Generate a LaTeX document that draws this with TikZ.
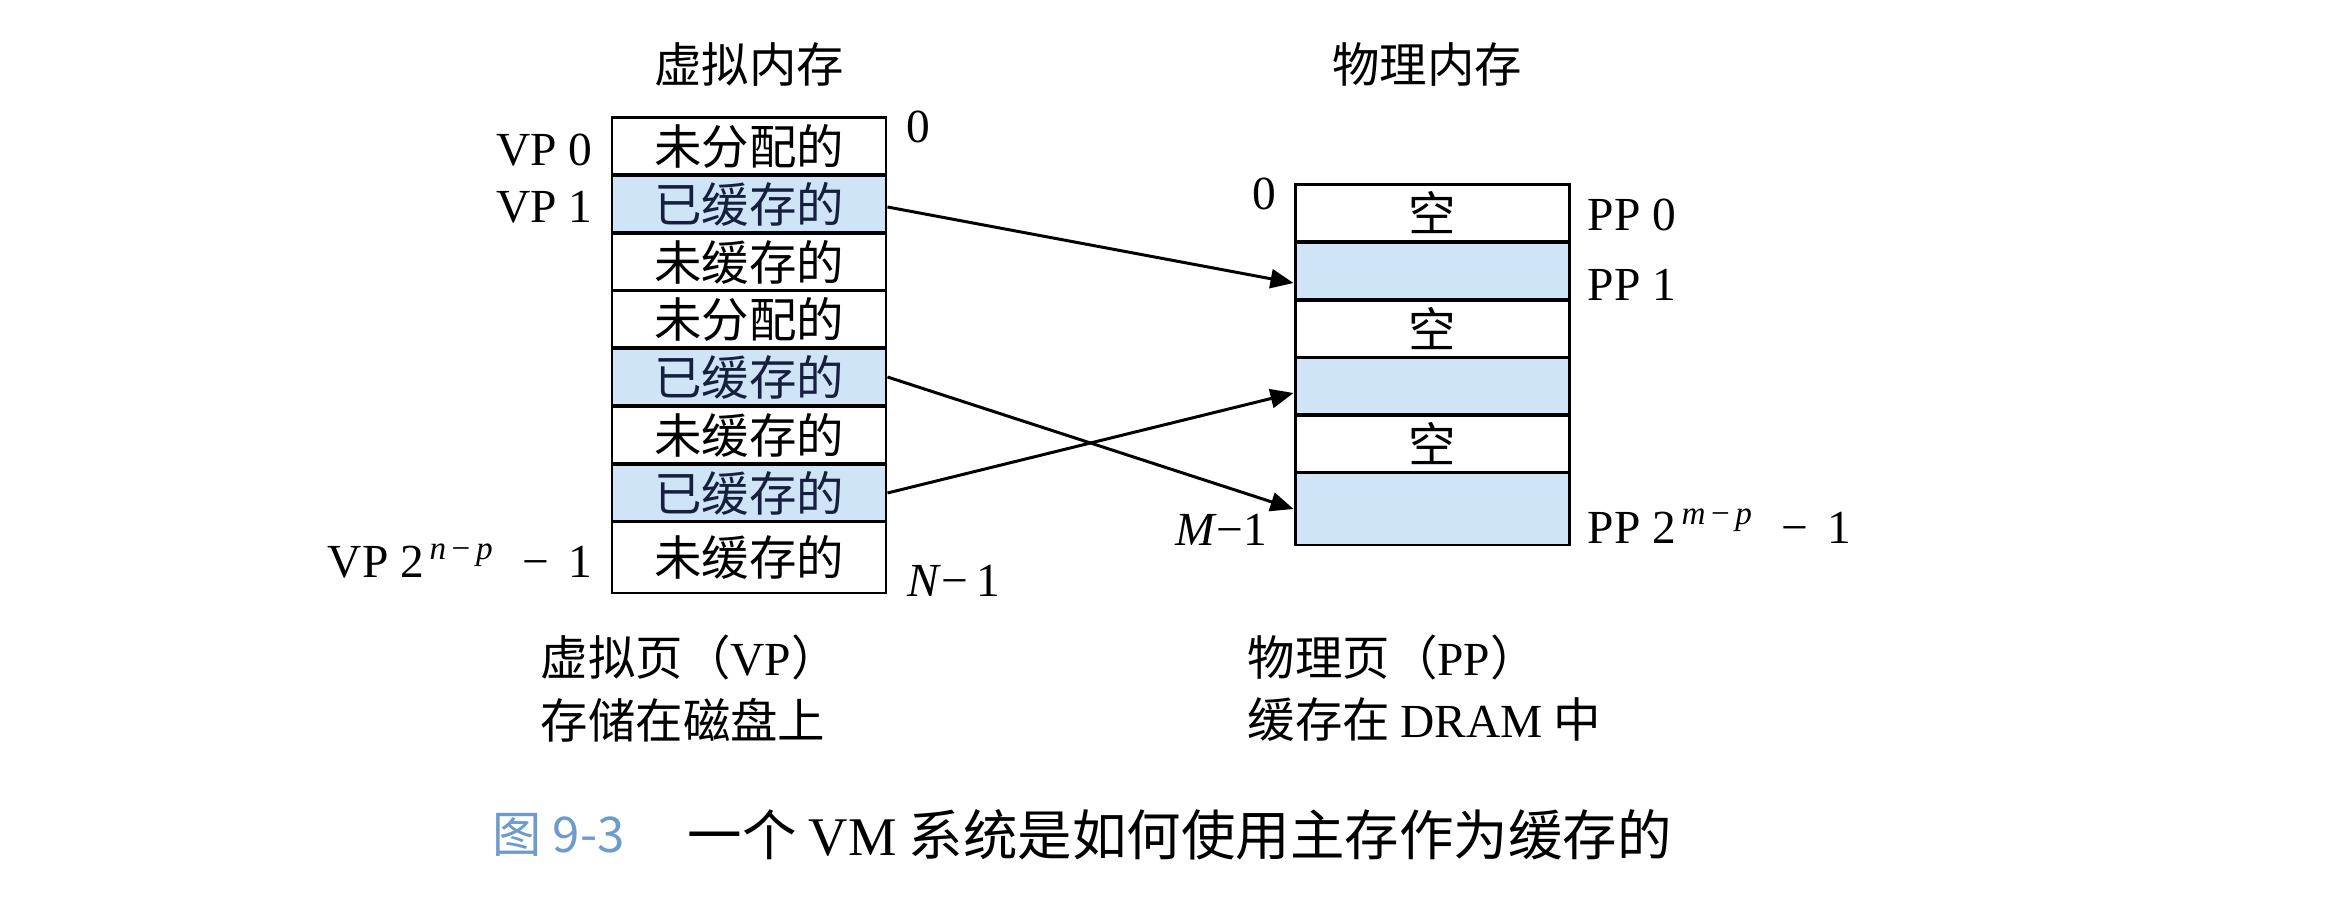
\documentclass[tikz,border=0pt]{standalone}
\usepackage{fontspec}
\setmainfont{Liberation Serif}
\newfontfamily\cjk{Noto Sans CJK SC}
\usetikzlibrary{arrows.meta}
\definecolor{cachebleu}{RGB}{207,229,247}
\definecolor{textebleu}{RGB}{22,32,62}
\definecolor{legendebleu}{RGB}{110,155,205}

\begin{document}
\begin{tikzpicture}[x=0.1mm, y=-0.1mm,
		page/.style={draw, line width=0.85pt, minimum width=27.4mm, minimum height=5.78mm, inner sep=0pt, font=\cjk\fontsize{13.5}{15}\selectfont},
		cachee/.style={page, fill=cachebleu, text=textebleu},
		derniere/.style={minimum height=7.2mm},
		etiquette/.style={inner sep=0pt, font=\fontsize{13.5}{15}\selectfont},
		titre/.style={inner sep=0pt, font=\cjk\fontsize{13.5}{15}\selectfont},
		fleche/.style={line width=0.85pt, -{Triangle[length=2.3mm, width=1.9mm]}}]
		\useasboundingbox (0,0) rectangle (2352,912);

		%titres
		\node (titre vm) at(749, 65) [titre] {虚拟内存};
		\node (titre pm) at(1427, 65) [titre] {物理内存};

		%memoire virtuelle : une page par ligne
		\node (vp 0) at(749, 146) [page] {未分配的};
		\node (vp 1) at(749, 204) [cachee] {已缓存的};
		\node (vp 2) at(749, 262) [page] {未缓存的};
		\node (vp 3) at(749, 319) [page] {未分配的};
		\node (vp 4) at(749, 377) [cachee] {已缓存的};
		\node (vp 5) at(749, 435) [page] {未缓存的};
		\node (vp 6) at(749, 493) [cachee] {已缓存的};
		\node (vp 7) at(749, 557) [page, derniere] {未缓存的};

		%memoire physique
		\node (pp 0) at(1432, 213) [page] {空};
		\node (pp 1) at(1432, 271) [cachee] {};
		\node (pp 2) at(1432, 329) [page] {空};
		\node (pp 3) at(1432, 386) [cachee] {};
		\node (pp 4) at(1432, 444) [page] {空};
		\node (pp 5) at(1432, 509) [cachee, derniere] {};

		%etiquettes des pages et des adresses
		\node (label vp 0) at(593, 150) [etiquette, anchor=east] {VP 0};
		\node (label vp 1) at(593, 207) [etiquette, anchor=east] {VP 1};
		\node (label vp 7) at(593, 561) [etiquette, anchor=east] {VP 2\textsuperscript{\,\textit{n}\,−\,\textit{p}}\, \,−\, 1};
		\node (adr vm 0) at(918, 127) [etiquette] {0};
		\node (adr vm n) at(907, 581) [etiquette, anchor=west] {\textit{N}−\,1};
		\node (adr pm 0) at(1264, 194) [etiquette] {0};
		\node (adr pm m) at(1268, 530) [etiquette, anchor=east] {\textit{M}−1};
		\node (label pp 0) at(1587, 215) [etiquette, anchor=west] {PP 0};
		\node (label pp 1) at(1587, 285) [etiquette, anchor=west] {PP 1};
		\node (label pp 5) at(1587, 526) [etiquette, anchor=west] {PP 2\textsuperscript{\,\textit{m}\,−\,\textit{p}}\, \,−\, 1};

		%legendes du bas
		\node (bas vm 1) at(540, 657) [titre, anchor=west] {虚拟页（{\rmfamily VP}）};
		\node (bas vm 2) at(540, 720) [titre, anchor=west] {存储在磁盘上};
		\node (bas pm 1) at(1247, 657) [titre, anchor=west] {物理页（{\rmfamily PP}）};
		\node (bas pm 2) at(1247, 720) [titre, anchor=west] {缓存在 {\rmfamily DRAM} 中};
		\node (fig num) at(492, 835) [inner sep=0pt, anchor=west, text=legendebleu, font=\cjk\fontsize{14}{16}\selectfont] {图 9-3};
		\node (fig texte) at(687, 835) [inner sep=0pt, anchor=west, font=\cjk\fontsize{15.5}{17}\selectfont] {一个 {\rmfamily VM} 系统是如何使用主存作为缓存的};

		%\path (page A) edge[fleche] (page B);
		\path
		([yshift=-0.3mm]vp 1.east) edge[fleche] ([yshift=-1.2mm]pp 1.west)
		(vp 4.east) edge[fleche] (pp 5.west)
		(vp 6.east) edge[fleche] ([yshift=-0.7mm]pp 3.west)
		;
\end{tikzpicture}
\end{document}
